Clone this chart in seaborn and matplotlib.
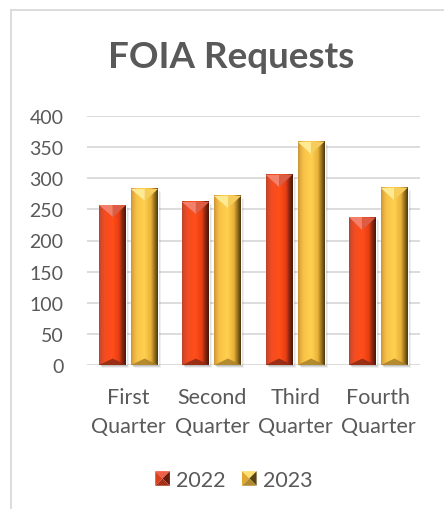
import numpy as np
import pandas as pd
import matplotlib
matplotlib.use("Agg")
import matplotlib.pyplot as plt
import seaborn as sns
from matplotlib.colors import LinearSegmentedColormap
from matplotlib.patches import Polygon, Rectangle
from matplotlib.legend_handler import HandlerBase
from matplotlib.lines import Line2D

# ---- data ----
quarters = ["First\nQuarter", "Second\nQuarter", "Third\nQuarter", "Fourth\nQuarter"]
years = ["2022", "2023"]
requests_2022 = [257, 262, 306, 237]
requests_2023 = [283, 272, 359, 285]
y_ticks = [0, 50, 100, 150, 200, 250, 300, 350, 400]

df = pd.DataFrame({
    "quarter": quarters * 2,
    "year": [years[0]] * 4 + [years[1]] * 4,
    "requests": requests_2022 + requests_2023,
})

# ---- bevelled bar styling per series ----
styles = {
    "2022": dict(
        base="#e8431c",
        body=["#b8442a", "#dc4a2a", "#f44c20", "#ff4e18", "#e83e14", "#8c2810", "#4a160a"],
        top_left="#f2806a", top_right="#dc5c44", bottom="#8a2a14",
        legend=("#f06048", "#d8401e", "#6a1c0c", "#a8301a"),
    ),
    "2023": dict(
        base="#f6bd3c",
        body=["#c89438", "#e8b040", "#f8c448", "#ffd050", "#eab238", "#a07820", "#4a3810"],
        top_left="#ffea94", top_right="#f6cc5c", bottom="#a8802a",
        legend=("#ffe070", "#e0a830", "#5a4412", "#b08a2c"),
    ),
}
body_stops = [0.0, 0.1, 0.22, 0.5, 0.74, 0.86, 1.0]

sns.set_theme(style="white")
plt.rcParams["font.family"] = ["Lato", "DejaVu Sans"]
text_color = "#595959"
grid_color = "#d9d9d9"

W, H = 444, 510
fig = plt.figure(figsize=(W / 100, H / 100), dpi=100)
fig.patch.set_facecolor("white")
ax = fig.add_axes([87 / W, 1 - 366 / H, 333 / W, 249 / H])

sns.barplot(
    data=df, x="quarter", y="requests", hue="year",
    palette=[styles[y]["base"] for y in years],
    width=0.77, gap=0.16, saturation=1, legend=False, ax=ax, zorder=3,
)

ax.set_xlim(-0.5, 3.5)
ax.set_ylim(0, 400)
ax.set_yticks(y_ticks)
ax.set_xlabel("")
ax.set_ylabel("")
ax.yaxis.grid(True, color=grid_color, lw=1.3)
ax.xaxis.grid(False)
ax.set_axisbelow(True)
for s in ax.spines.values():
    s.set_visible(False)
ax.tick_params(axis="y", length=0, pad=17, labelsize=14, labelcolor=text_color)
ax.tick_params(axis="x", length=0, pad=15.5, labelsize=15.5, labelcolor=text_color)
for t in ax.get_xticklabels():
    t.set_linespacing(1.6)

# data units per pixel
fig.canvas.draw()
bb = ax.get_window_extent()
sx = 4.0 / bb.width
sy = 400.0 / bb.height

for year, container in zip(years, ax.containers):
    st = styles[year]
    cmap = LinearSegmentedColormap.from_list(
        "body_" + year, list(zip(body_stops, st["body"])))
    grad = cmap(np.linspace(0, 1, 128))[None, :, :]
    for rect in container:
        x0, y0 = rect.get_x(), rect.get_y()
        w, h = rect.get_width(), rect.get_height()
        x1, top, xc = x0 + w, y0 + h, x0 + w / 2
        w_px = w / sx
        # soft drop shadow
        for k, a in [(3.0, 0.06), (2.0, 0.09), (1.0, 0.12)]:
            ax.add_patch(Rectangle((x0 + k * sx, y0 - k * sy), w, h,
                                   facecolor="black", alpha=a, lw=0,
                                   zorder=2.5, clip_on=False))
        ax.imshow(grad, extent=[x0, x1, y0, top], aspect="auto",
                  interpolation="bilinear", zorder=3.2)
        dt = 0.46 * w_px * sy
        ax.add_patch(Polygon([(x0, top), (xc, top), (xc, top - dt)],
                             closed=True, facecolor=st["top_left"], lw=0, zorder=3.4))
        ax.add_patch(Polygon([(xc, top), (x1, top), (xc, top - dt)],
                             closed=True, facecolor=st["top_right"], lw=0, zorder=3.4))
        db = 0.24 * w_px * sy
        ax.add_patch(Polygon([(x0, y0), (x1, y0), (xc, y0 + db)],
                             closed=True, facecolor=st["bottom"], alpha=0.85,
                             lw=0, zorder=3.4))

ax.set_xlim(-0.5, 3.5)
ax.set_ylim(0, 400)


class BevelSquare(HandlerBase):
    def __init__(self, colors):
        super().__init__()
        self.colors = colors

    def create_artists(self, legend, orig_handle, xdescent, ydescent,
                       width, height, fontsize, trans):
        s = min(width, height)
        x0 = -xdescent + (width - s) / 2
        y0 = -ydescent + (height - s) / 2
        cx, cy = x0 + s / 2, y0 + s / 2
        tl, tr, br, bl = (x0, y0 + s), (x0 + s, y0 + s), (x0 + s, y0), (x0, y0)
        c_top, c_left, c_right, c_bot = self.colors
        tris = [
            ([tl, tr, (cx, cy)], c_top),
            ([tl, bl, (cx, cy)], c_left),
            ([tr, br, (cx, cy)], c_right),
            ([bl, br, (cx, cy)], c_bot),
        ]
        return [Polygon(p, closed=True, facecolor=c, lw=0, transform=trans)
                for p, c in tris]


handles = [Rectangle((0, 0), 1, 1) for _ in years]
fig.legend(
    handles, years, loc="center", bbox_to_anchor=(0.527, 1 - 481 / H),
    ncol=2, frameon=False, fontsize=15.5, labelcolor=text_color,
    handlelength=0.68, handleheight=0.68, handletextpad=0.3, columnspacing=0.75,
    handler_map={h: BevelSquare(styles[y]["legend"]) for h, y in zip(handles, years)},
)

fig.text(0.52, 1 - 58 / H, "FOIA Requests", ha="center", va="center",
         fontsize=26.5, fontweight="bold", color=text_color)

# chart area border (left and top edges)
fig.add_artist(Line2D([11 / W, 11 / W], [0, 1 - 11 / H], transform=fig.transFigure,
                      color=grid_color, lw=1.3))
fig.add_artist(Line2D([11 / W, 1], [1 - 11 / H, 1 - 11 / H], transform=fig.transFigure,
                      color=grid_color, lw=1.3))

fig.savefig("out.png", dpi=100)
